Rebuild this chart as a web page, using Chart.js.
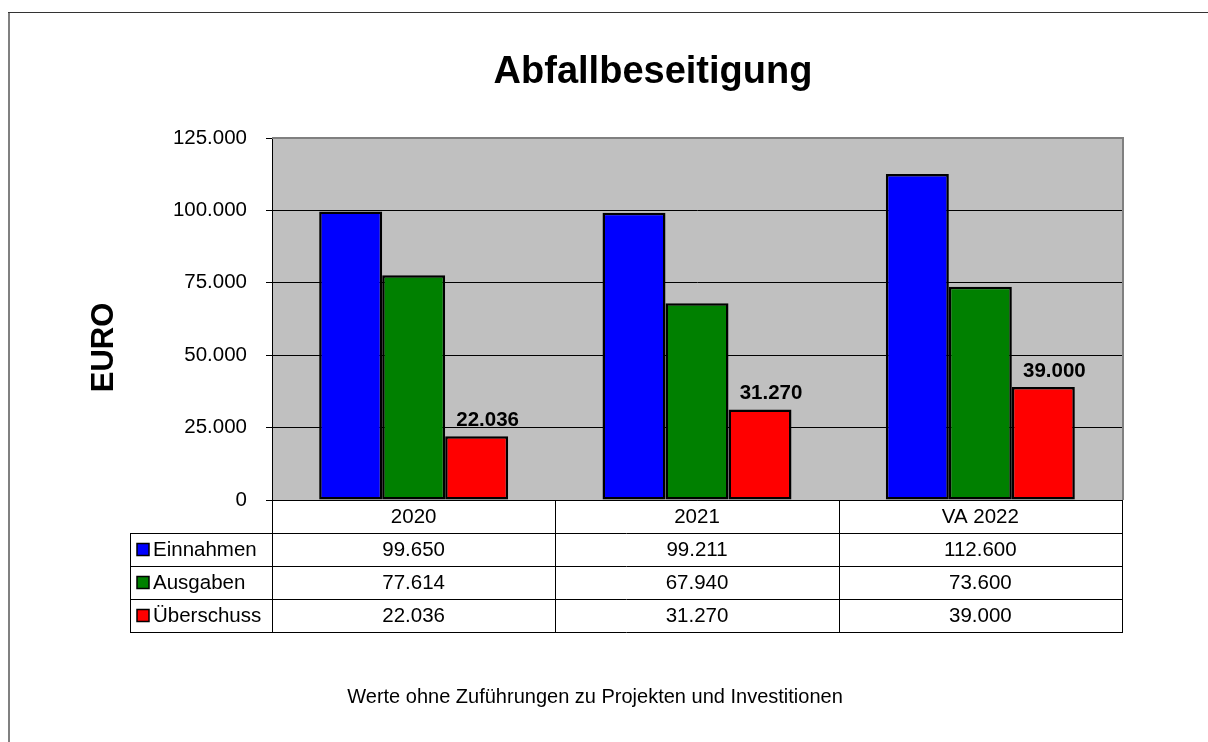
<!DOCTYPE html>
<html>
<head>
<meta charset="utf-8">
<script src="https://cdn.jsdelivr.net/npm/chart.js@4/dist/chart.umd.min.js"></script>
<style>
html,body{margin:0;padding:0;background:#fff;}
canvas{display:block;}
</style>
</head>
<body>
<canvas id="c" width="1208" height="742"></canvas>
<script>
const categories = ['2020', '2021', 'VA 2022'];
const seriesNames = ['Einnahmen', 'Ausgaben', 'Überschuss'];
const einnahmen = [99650, 99211, 112600];
const ausgaben = [77614, 67940, 73600];
const ueberschuss = [22036, 31270, 39000];
const seriesColors = ['#0000FF', '#008000', '#FF0000'];
const yMin = 0, yMax = 125000, yStep = 25000;
const titleText = 'Abfallbeseitigung';
const yTitleText = 'EURO';
const footerText = 'Werte ohne Zuführungen zu Projekten und Investitionen';

const FONT = "'Liberation Sans', Arial, sans-serif";
const fmt = v => String(v).replace(/\B(?=(\d{3})+(?!\d))/g, '.');
const seriesValues = [einnahmen, ausgaben, ueberschuss];

const ROW_H = 33;
const LEGEND_LEFT = 130;

const decorPlugin = {
  id: 'decor',
  beforeDraw(chart) {
    const {ctx, chartArea: a} = chart;
    ctx.save();
    ctx.fillStyle = '#fff';
    ctx.fillRect(0, 0, chart.width, chart.height);
    ctx.fillStyle = '#C0C0C0';
    ctx.fillRect(a.left, a.top, a.right - a.left, a.bottom - a.top);
    ctx.restore();
  },
  afterDatasetsDraw(chart) {
    const {ctx} = chart;
    const meta = chart.getDatasetMeta(2);
    ctx.save();
    ctx.font = 'bold 20.5px ' + FONT;
    ctx.fillStyle = '#000';
    ctx.textAlign = 'center';
    ctx.textBaseline = 'alphabetic';
    meta.data.forEach((el, i) => {
      ctx.fillText(fmt(ueberschuss[i]), el.x + 11, el.y - 10);
    });
    ctx.restore();
  },
  afterDraw(chart) {
    const {ctx, chartArea: a} = chart;
    const xs = chart.scales.x;
    ctx.save();
    // plot area border (top, right)
    ctx.fillStyle = '#808080';
    ctx.fillRect(a.left, a.top - 1, a.right - a.left + 2, 2);
    ctx.fillRect(a.right, a.top - 1, 2, a.bottom - a.top + 1);

    // column boundaries
    const n = categories.length;
    const bounds = [a.left];
    for (let i = 0; i < n - 1; i++) {
      bounds.push((xs.getPixelForValue(i) + xs.getPixelForValue(i + 1)) / 2);
    }
    bounds.push(a.right);
    const top = a.bottom;
    const rowsY = [];
    for (let r = 0; r <= seriesNames.length + 1; r++) rowsY.push(top + r * ROW_H);
    const tableBottom = rowsY[rowsY.length - 1];

    ctx.strokeStyle = '#000';
    ctx.lineWidth = 1;
    ctx.beginPath();
    ctx.moveTo(a.left, Math.round(top) + 0.5); ctx.lineTo(a.right + 1, Math.round(top) + 0.5);
    for (let r = 1; r < rowsY.length; r++) {
      const y = Math.round(rowsY[r]) + 0.5;
      ctx.moveTo(LEGEND_LEFT, y); ctx.lineTo(a.right + 1, y);
    }
    ctx.moveTo(LEGEND_LEFT + 0.5, Math.round(rowsY[1])); ctx.lineTo(LEGEND_LEFT + 0.5, Math.round(tableBottom) + 1);
    bounds.forEach(b => {
      const x = Math.round(b) + 0.5;
      ctx.moveTo(x, Math.round(top)); ctx.lineTo(x, Math.round(tableBottom) + 1);
    });
    ctx.stroke();

    // header text
    ctx.font = '20.5px ' + FONT;
    ctx.fillStyle = '#000';
    ctx.textAlign = 'center';
    ctx.textBaseline = 'middle';
    categories.forEach((c, i) => {
      ctx.fillText(c, xs.getPixelForValue(i), (rowsY[0] + rowsY[1]) / 2 + 1);
    });
    // data rows
    seriesNames.forEach((name, s) => {
      const cy = (rowsY[s + 1] + rowsY[s + 2]) / 2 + 1;
      seriesValues[s].forEach((v, i) => {
        ctx.textAlign = 'center';
        ctx.fillText(fmt(v), xs.getPixelForValue(i), cy);
      });
      ctx.fillStyle = seriesColors[s];
      ctx.fillRect(137, cy - 7, 12, 12);
      ctx.strokeStyle = '#000';
      ctx.lineWidth = 1.5;
      ctx.strokeRect(137, cy - 7, 12, 12);
      ctx.fillStyle = '#000';
      ctx.textAlign = 'left';
      ctx.fillText(name, 153, cy);
    });

    // title
    ctx.font = 'bold 38px ' + FONT;
    ctx.textAlign = 'center';
    ctx.textBaseline = 'alphabetic';
    ctx.fillText(titleText, 653, 83);

    // y axis title
    ctx.save();
    ctx.translate(113, 347.5);
    ctx.rotate(-Math.PI / 2);
    ctx.font = 'bold 31px ' + FONT;
    ctx.textAlign = 'center';
    ctx.textBaseline = 'alphabetic';
    ctx.fillText(yTitleText, 0, 0);
    ctx.restore();

    // footer
    ctx.font = '20px ' + FONT;
    ctx.textAlign = 'center';
    ctx.textBaseline = 'alphabetic';
    ctx.fillText(footerText, 595, 703);

    // outer border
    ctx.fillStyle = '#808080';
    ctx.fillRect(8, 12, 2, chart.height - 12);
    ctx.fillStyle = '#333';
    ctx.fillRect(8, 12, chart.width - 8, 1);
    ctx.restore();
  }
};

new Chart(document.getElementById('c'), {
  type: 'bar',
  data: {
    labels: categories,
    datasets: seriesNames.map((name, s) => ({
      label: name,
      data: seriesValues[s],
      backgroundColor: seriesColors[s],
      borderColor: '#000',
      borderWidth: 2.5,
      borderSkipped: false,
      barPercentage: 1,
      categoryPercentage: 0.667
    }))
  },
  options: {
    responsive: false,
    devicePixelRatio: 1,
    animation: false,
    layout: { padding: { left: 0, top: 138, right: 86, bottom: 242 } },
    plugins: { legend: { display: false }, tooltip: { enabled: false }, title: { display: false } },
    scales: {
      x: { display: false },
      y: {
        min: yMin, max: yMax,
        afterFit(s) { s.width = 272; },
        border: { display: true, color: '#000', width: 1 },
        grid: {
          color: ctx => (ctx.tick && ctx.tick.value === yMax) ? '#808080' : '#000',
          lineWidth: 1,
          drawTicks: true,
          tickLength: 6,
          tickColor: '#000'
        },
        ticks: {
          stepSize: yStep,
          padding: 19,
          color: '#000',
          font: { family: FONT, size: 20.5 },
          callback: v => fmt(v)
        }
      }
    }
  },
  plugins: [decorPlugin]
});
</script>
</body>
</html>
